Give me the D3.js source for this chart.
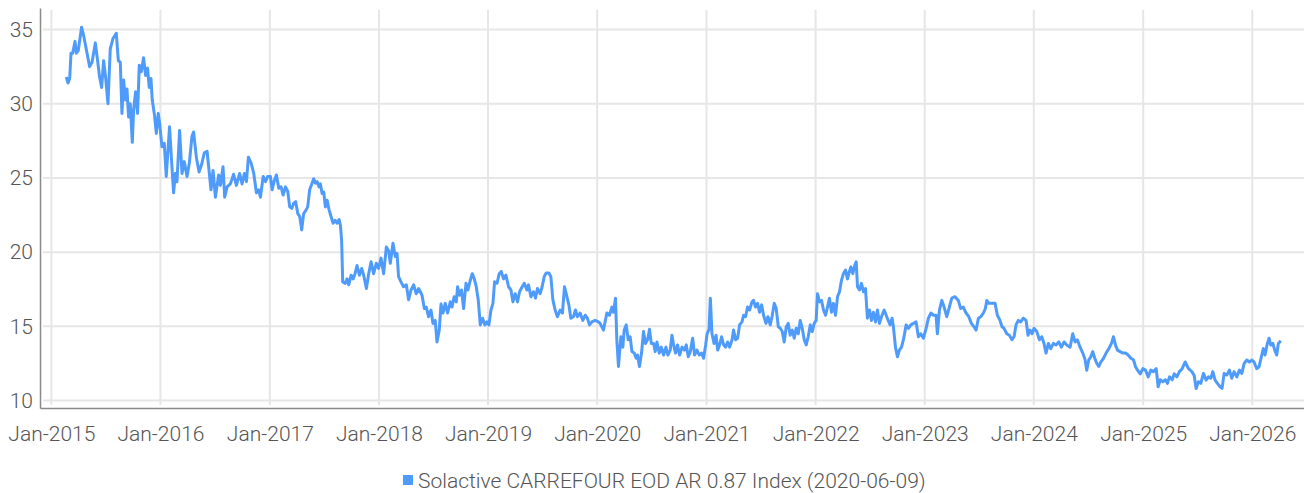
<!DOCTYPE html>
<html>
<head>
<meta charset="utf-8">
<script src="https://cdn.jsdelivr.net/npm/d3@7"></script>
<style>
  body { margin: 0; background: #fff; }
  svg { display: block; font-family: Roboto, "Noto Sans", sans-serif; font-weight: 300; }
</style>
</head>
<body>
<div class="graph-pane"></div>
<script>
// dates are decimal years (2015.5 = mid 2015)
var dateYears = [
  2015.137, 2015.153, 2015.168, 2015.180, 2015.195, 2015.217, 2015.229, 2015.247, 2015.277, 2015.296,
  2015.327, 2015.351, 2015.373, 2015.403, 2015.424, 2015.442, 2015.461, 2015.479, 2015.497, 2015.519,
  2015.540, 2015.565, 2015.595, 2015.614, 2015.632, 2015.647, 2015.662, 2015.680, 2015.693, 2015.708,
  2015.723, 2015.742, 2015.754, 2015.772, 2015.790, 2015.806, 2015.824, 2015.845, 2015.864, 2015.882,
  2015.897, 2015.913, 2015.925, 2015.946, 2015.962, 2015.980, 2015.992, 2016.014, 2016.035, 2016.053,
  2016.083, 2016.105, 2016.120, 2016.136, 2016.151, 2016.175, 2016.197, 2016.218, 2016.243, 2016.264,
  2016.288, 2016.303, 2016.328, 2016.353, 2016.376, 2016.401, 2016.426, 2016.447, 2016.462, 2016.481,
  2016.502, 2016.532, 2016.548, 2016.572, 2016.587, 2016.609, 2016.639, 2016.669, 2016.694, 2016.724,
  2016.746, 2016.767, 2016.786, 2016.804, 2016.829, 2016.853, 2016.877, 2016.898, 2016.914, 2016.939,
  2016.960, 2016.981,
  2017.005, 2017.021, 2017.042, 2017.060, 2017.082, 2017.103, 2017.122, 2017.143, 2017.164, 2017.182,
  2017.201, 2017.219, 2017.237, 2017.256, 2017.274, 2017.292, 2017.310, 2017.329, 2017.347, 2017.365,
  2017.387, 2017.402, 2017.418, 2017.433, 2017.451, 2017.463, 2017.479, 2017.494, 2017.509, 2017.525,
  2017.543, 2017.561, 2017.580, 2017.598, 2017.616, 2017.635, 2017.647, 2017.658, 2017.668,
  2017.692, 2017.708, 2017.723, 2017.745, 2017.763, 2017.781, 2017.799, 2017.821, 2017.842, 2017.860,
  2017.885, 2017.906, 2017.928, 2017.951, 2017.976, 2017.997, 2018.019, 2018.043, 2018.068, 2018.089,
  2018.104, 2018.129, 2018.150, 2018.166, 2018.180, 2018.202, 2018.226, 2018.251, 2018.272, 2018.294,
  2018.318, 2018.342, 2018.364, 2018.395, 2018.416, 2018.434, 2018.455, 2018.477, 2018.495, 2018.516,
  2018.532, 2018.553, 2018.569, 2018.587, 2018.608, 2018.629, 2018.654, 2018.669, 2018.690, 2018.709,
  2018.721, 2018.739, 2018.757, 2018.776, 2018.798, 2018.816, 2018.837, 2018.855, 2018.874, 2018.892,
  2018.910, 2018.929, 2018.950, 2018.972, 2018.990, 2019.008, 2019.027, 2019.045, 2019.060, 2019.082,
  2019.103, 2019.121, 2019.142, 2019.164, 2019.188, 2019.210, 2019.228, 2019.249, 2019.270, 2019.289,
  2019.313, 2019.332, 2019.356, 2019.371, 2019.393, 2019.417, 2019.435, 2019.453, 2019.478, 2019.496,
  2019.515, 2019.533, 2019.558, 2019.576, 2019.594, 2019.615, 2019.636, 2019.661, 2019.682, 2019.701,
  2019.723, 2019.741, 2019.759, 2019.783, 2019.801, 2019.820, 2019.844, 2019.869, 2019.890, 2019.911,
  2019.930, 2019.951, 2019.982, 2020.012,
  2020.027, 2020.058, 2020.089, 2020.113, 2020.135, 2020.149, 2020.168, 2020.180, 2020.195, 2020.217,
  2020.235, 2020.247, 2020.266, 2020.284, 2020.302, 2020.318, 2020.339, 2020.357, 2020.369, 2020.387,
  2020.406, 2020.424, 2020.442, 2020.461, 2020.479, 2020.495, 2020.516, 2020.531, 2020.547, 2020.568,
  2020.586, 2020.607, 2020.629, 2020.647, 2020.668, 2020.684, 2020.699, 2020.717, 2020.735, 2020.754,
  2020.776, 2020.797, 2020.815, 2020.833, 2020.852, 2020.873, 2020.891, 2020.913, 2020.934, 2020.955,
  2020.973, 2020.992, 2021.005, 2021.023, 2021.035, 2021.050, 2021.069, 2021.087, 2021.102, 2021.120,
  2021.138, 2021.157, 2021.175, 2021.193, 2021.212, 2021.234, 2021.248, 2021.266, 2021.285, 2021.303,
  2021.325, 2021.340, 2021.358, 2021.376, 2021.395, 2021.417, 2021.431, 2021.449, 2021.468, 2021.486,
  2021.505, 2021.523, 2021.545, 2021.563, 2021.584, 2021.603, 2021.621, 2021.639, 2021.658, 2021.676,
  2021.694, 2021.712, 2021.731, 2021.749, 2021.767, 2021.786, 2021.804, 2021.822, 2021.841, 2021.859,
  2021.877, 2021.896, 2021.914, 2021.932, 2021.951, 2021.969, 2021.987, 2022.005, 2022.017, 2022.036,
  2022.054, 2022.072, 2022.091, 2022.109, 2022.127, 2022.146, 2022.164, 2022.182, 2022.201, 2022.219,
  2022.237, 2022.255, 2022.274, 2022.292, 2022.310, 2022.323, 2022.341, 2022.360, 2022.372, 2022.384,
  2022.402, 2022.420, 2022.439, 2022.457, 2022.475, 2022.494, 2022.512, 2022.530, 2022.549, 2022.567,
  2022.585, 2022.604, 2022.628, 2022.647, 2022.665, 2022.683, 2022.701, 2022.713, 2022.732, 2022.750,
  2022.768, 2022.787, 2022.805, 2022.830, 2022.851, 2022.873, 2022.897, 2022.921, 2022.942, 2022.964,
  2022.988, 2023.013, 2023.034, 2023.056, 2023.080, 2023.104, 2023.116, 2023.135, 2023.157, 2023.178,
  2023.202, 2023.226, 2023.248, 2023.278, 2023.308, 2023.330, 2023.354, 2023.379, 2023.404, 2023.428,
  2023.452, 2023.471, 2023.492, 2023.514, 2023.538, 2023.556, 2023.569, 2023.587, 2023.614, 2023.645,
  2023.666, 2023.690, 2023.709, 2023.727, 2023.752, 2023.776, 2023.800, 2023.819, 2023.837, 2023.858,
  2023.880, 2023.904, 2023.929, 2023.947, 2023.965, 2023.984, 2024.002, 2024.027, 2024.051, 2024.073,
  2024.093, 2024.112, 2024.133, 2024.155, 2024.179, 2024.203, 2024.228, 2024.252, 2024.277, 2024.301,
  2024.332, 2024.356, 2024.377, 2024.398, 2024.423, 2024.448, 2024.469, 2024.484, 2024.503, 2024.521,
  2024.539, 2024.557, 2024.576, 2024.594, 2024.613, 2024.637, 2024.661, 2024.686, 2024.710, 2024.728,
  2024.746, 2024.765, 2024.789, 2024.814, 2024.838, 2024.863, 2024.887, 2024.911, 2024.929, 2024.948,
  2024.973, 2024.997, 2025.021, 2025.046, 2025.070, 2025.094, 2025.119, 2025.137, 2025.156, 2025.180,
  2025.204, 2025.222, 2025.241, 2025.266, 2025.284, 2025.308, 2025.332, 2025.357, 2025.385, 2025.415,
  2025.446, 2025.467, 2025.485, 2025.506, 2025.528, 2025.552, 2025.577, 2025.598, 2025.620, 2025.638,
  2025.659, 2025.680, 2025.705, 2025.723, 2025.742, 2025.767, 2025.790, 2025.812, 2025.833, 2025.858,
  2025.882, 2025.904, 2025.925, 2025.950, 2025.974, 2025.996, 2026.016, 2026.041, 2026.062, 2026.083,
  2026.101, 2026.117, 2026.138, 2026.154, 2026.169, 2026.188, 2026.206, 2026.224, 2026.239, 2026.261
];

var indexValues = [
  31.8, 31.4, 31.7, 33.4, 33.4, 34.2, 33.4, 33.6, 35.15, 34.6,
  33.4, 32.5, 32.8, 34.1, 32.9, 31.8, 31.1, 32.9, 31.8, 30.0,
  33.7, 34.4, 34.75, 32.9, 32.8, 29.35, 31.6, 30.25, 31.0, 29.1,
  30.0, 27.4, 29.6, 30.8, 29.35, 32.6, 32.15, 33.1, 31.9, 32.4,
  31.1, 31.7, 30.25, 29.2, 28.0, 29.35, 28.7, 27.1, 27.33, 25.1,
  28.45, 25.75, 24.0, 25.3, 24.75, 28.2, 25.3, 26.1, 25.1, 26.0,
  27.8, 28.1, 26.4, 25.4, 25.9, 26.7, 26.8, 25.3, 24.2, 25.5,
  23.7, 25.2, 24.5, 25.75, 23.7, 24.4, 24.6, 25.25, 24.5, 25.3,
  24.6, 25.3, 24.75, 26.4, 26.0, 25.3, 24.0, 24.2, 23.7, 25.1,
  24.75, 25.1,
  25.1, 24.2, 24.85, 25.2, 24.3, 24.4, 23.85, 24.4, 24.1, 23.05,
  22.95, 23.3, 23.4, 22.6, 22.4, 21.5, 22.6, 22.8, 23.05, 24.2,
  24.65, 24.95, 24.65, 24.75, 24.4, 24.6, 23.95, 24.05, 23.05, 23.5,
  22.85, 22.4, 21.95, 22.15, 21.95, 22.2, 21.8, 20.8, 18.0,
  17.9, 18.2, 17.8, 18.45, 18.2, 18.55, 19.1, 18.45, 18.9, 18.45,
  17.55, 18.55, 19.35, 18.55, 19.25, 18.9, 19.6, 18.55, 20.35, 20.1,
  19.25, 20.6, 19.7, 19.9, 18.35, 18.0, 17.67, 17.8, 16.8, 17.45,
  17.8, 17.2, 17.55, 17.1, 16.2, 16.3, 15.65, 16.1, 15.2, 15.4,
  13.95, 14.75, 16.5, 15.9, 16.55, 15.9, 16.65, 16.3, 17.0, 16.65,
  17.67, 17.1, 17.45, 16.2, 17.9, 17.45, 18.1, 18.55, 18.2, 17.67,
  16.8, 15.1, 15.55, 15.1, 15.3, 15.1, 16.1, 16.55, 18.0, 17.9,
  18.55, 18.7, 18.2, 18.45, 17.67, 17.45, 16.65, 17.2, 16.65, 17.33,
  17.67, 17.9, 17.45, 17.8, 17.0, 17.33, 16.9, 17.55, 17.2, 17.67,
  18.35, 18.6, 18.6, 18.35, 16.8, 16.1, 15.65, 16.1, 15.9, 17.67,
  17.0, 16.45, 15.55, 15.65, 16.1, 15.65, 15.9, 15.4, 15.75, 15.55,
  15.1, 15.3, 15.4, 15.3,
  15.2, 14.75, 15.9, 15.75, 16.3, 15.95, 16.9, 14.1, 12.3, 14.3,
  13.6, 14.75, 15.1, 14.1, 14.3, 13.3, 13.2, 12.85, 13.07, 12.3,
  13.2, 14.65, 13.85, 14.1, 14.8, 13.85, 13.85, 13.3, 13.95, 13.2,
  13.6, 13.07, 13.6, 13.07, 13.4, 14.4, 13.75, 13.2, 13.75, 13.07,
  13.6, 13.4, 13.75, 12.95, 13.3, 14.2, 13.07, 13.4, 13.07, 13.2,
  12.85, 13.75, 14.5, 14.8, 16.9, 14.5, 13.85, 14.4, 13.4, 13.75,
  14.3, 13.75, 13.6, 13.95, 13.6, 14.1, 14.75, 14.1, 14.2, 15.1,
  15.3, 15.75, 15.65, 16.3, 16.1, 16.65, 16.75, 16.3, 16.55, 15.95,
  16.45, 15.75, 15.2, 15.65, 15.1, 15.75, 16.55, 16.2, 14.97, 14.87,
  14.65, 13.95, 14.97, 15.2, 14.4, 14.75, 14.2, 14.87, 14.5, 15.4,
  14.87, 14.1, 13.75, 14.3, 15.1, 14.65, 15.2, 15.4, 17.2, 16.65,
  16.75, 16.1, 15.75, 16.3, 16.9, 15.95, 16.55, 15.75, 17.0, 17.33,
  18.1, 18.55, 18.8, 18.2, 18.7, 19.0, 18.55, 19.15, 19.35, 17.67,
  17.45, 17.9, 17.33, 17.55, 15.55, 16.1, 15.4, 15.95, 15.3, 16.1,
  15.2, 15.65, 16.1, 15.75, 15.4, 15.1, 15.55, 14.97, 13.6, 12.95,
  13.4, 13.6, 14.1, 15.1, 14.87, 15.1, 15.2, 15.3, 14.3, 14.5,
  14.2, 14.87, 15.55, 15.9, 15.75, 15.75, 14.5, 16.1, 16.75, 16.3,
  15.65, 16.3, 16.9, 17.0, 16.75, 16.2, 16.3, 15.9, 15.65, 15.2,
  14.97, 14.75, 15.55, 15.65, 15.9, 16.2, 16.75, 16.55, 16.55, 16.55,
  15.75, 15.4, 14.97, 14.87, 14.5, 14.4, 14.1, 14.3, 15.1, 15.4,
  15.3, 15.55, 15.4, 14.4, 14.75, 14.5, 14.87, 14.65, 14.1, 14.3,
  13.85, 13.2, 13.85, 13.5, 13.85, 13.75, 13.95, 13.6, 13.95, 13.75,
  13.6, 14.5, 13.95, 14.1, 13.6, 13.2, 12.75, 12.05, 12.75, 12.95,
  13.3, 12.85, 12.5, 12.3, 12.6, 12.85, 13.2, 13.5, 13.85, 14.3,
  13.75, 13.4, 13.3, 13.2, 13.2, 13.07, 12.85, 12.75, 12.3, 12.05,
  11.8, 12.15, 12.05, 11.6, 12.05, 11.95, 12.15, 10.93, 11.4, 11.27,
  11.4, 11.16, 11.6, 11.4, 11.8, 11.6, 11.95, 12.15, 12.6, 12.15,
  11.95, 11.7, 10.82, 11.27, 11.16, 11.83, 11.38, 11.6, 11.5, 11.95,
  11.38, 11.16, 10.93, 10.82, 11.83, 11.72, 12.05, 11.5, 11.95, 11.6,
  12.05, 11.83, 12.5, 12.73, 12.6, 12.73, 12.6, 12.15, 12.28, 12.95,
  13.5, 13.07, 13.85, 14.2, 13.75, 13.85, 13.4, 13.07, 13.85, 14.03
];

var yTicks = [10, 15, 20, 25, 30, 35];
var xTickYears = [2015, 2016, 2017, 2018, 2019, 2020, 2021, 2022, 2023, 2024, 2025, 2026];
var seriesName = "Solactive CARREFOUR EOD AR 0.87 Index (2020-06-09)";

var width = 1304, height = 493;
var margin = {top: 8, right: 0, bottom: 85, left: 40};
var lineColor = "#4f9bfb";

// turn a decimal year into a real date
function toDate(y) {
  var yr = Math.floor(y);
  var start = Date.UTC(yr, 0, 1), end = Date.UTC(yr + 1, 0, 1);
  return new Date(start + (y - yr) * (end - start));
}

var data = dateYears.map(function(y, i) {
  return {date: toDate(y), close: indexValues[i]};
});

var svg = d3.select('.graph-pane')
  .append('svg')
  .attr('width', width)
  .attr('height', height);

var xScale = d3.scaleUtc()
  .domain([new Date(Date.UTC(2014, 10, 24)), new Date(Date.UTC(2026, 5, 23))])
  .range([margin.left, width - margin.right]);

var yScale = d3.scaleLinear()
  .domain([9.5, 36.45])
  .range([height - margin.bottom, margin.top]);

var xTicks = xTickYears.map(function(y) { return new Date(Date.UTC(y, 0, 1)); });

// grid first so the line sits on top
var grid = svg.append('g').attr('class', 'grid');
grid.selectAll('line.h')
  .data(yTicks)
  .enter().append('line')
  .attr('class', 'h')
  .attr('x1', margin.left + 3)
  .attr('x2', width - margin.right)
  .attr('y1', function(d) { return yScale(d); })
  .attr('y2', function(d) { return yScale(d); })
  .attr('stroke', '#e6e6e6')
  .attr('stroke-width', 2);

grid.selectAll('line.v')
  .data(xTicks)
  .enter().append('line')
  .attr('class', 'v')
  .attr('x1', function(d) { return xScale(d); })
  .attr('x2', function(d) { return xScale(d); })
  .attr('y1', margin.top + 2)
  .attr('y2', height - margin.bottom - 3)
  .attr('stroke', '#e6e6e6')
  .attr('stroke-width', 2);

var xAxis = d3.axisBottom(xScale)
  .tickValues(xTicks)
  .tickFormat(d3.utcFormat('%b-%Y'))
  .tickSize(0)
  .tickPadding(18);

var yAxis = d3.axisLeft(yScale)
  .tickValues(yTicks)
  .tickSize(0)
  .tickPadding(7);

var gx = svg.append('g')
  .attr('transform', 'translate(0,' + (height - margin.bottom) + ')')
  .call(xAxis);

var gy = svg.append('g')
  .attr('transform', 'translate(' + margin.left + ',0)')
  .call(yAxis);

[gx, gy].forEach(function(g) {
  g.select('.domain').attr('stroke', '#8a8a8a').attr('stroke-width', 1.5);
  g.selectAll('text')
    .attr('fill', '#555')
    .style('font-size', '21px')
    .style('font-family', 'Roboto, sans-serif')
    .style('font-weight', 300);
});

var line = d3.line()
  .x(function(d) { return xScale(d.date); })
  .y(function(d) { return yScale(d.close); });

svg.append('path')
  .datum(data)
  .attr('fill', 'none')
  .attr('stroke', lineColor)
  .attr('stroke-width', 3)
  .attr('stroke-linejoin', 'round')
  .attr('d', line);

// legend
var legend = svg.append('g').attr('transform', 'translate(403,475)');
legend.append('rect')
  .attr('width', 10)
  .attr('height', 10)
  .attr('fill', lineColor);
legend.append('text')
  .attr('x', 15)
  .attr('y', 13)
  .attr('fill', '#555')
  .style('font-size', '21px')
  .text(seriesName);
</script>
</body>
</html>
